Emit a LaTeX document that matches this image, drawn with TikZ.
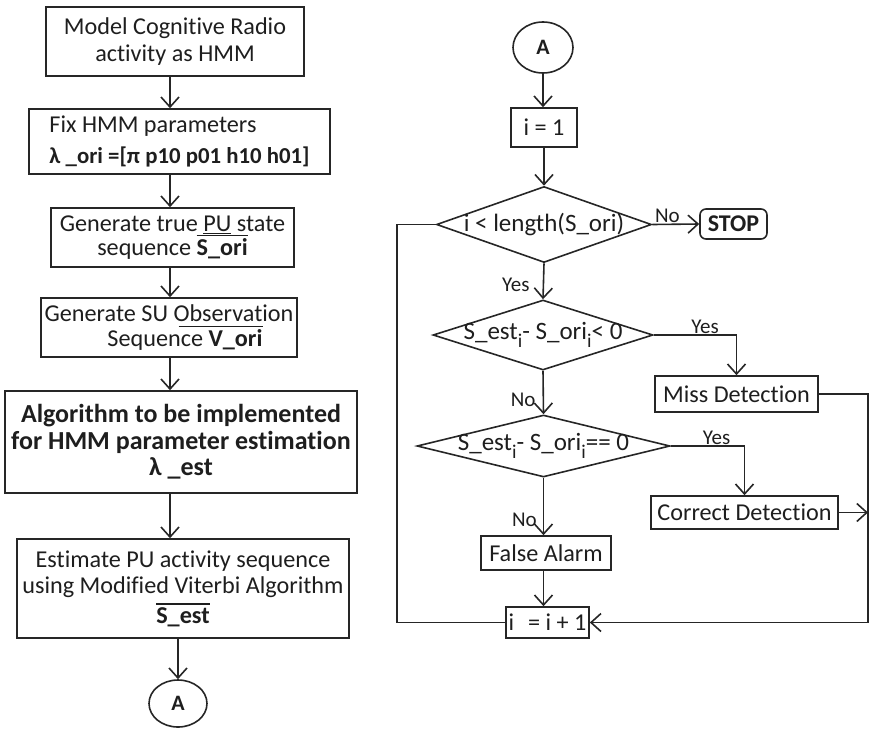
\documentclass[tikz,border=0pt]{standalone}
\usepackage{fontspec}
\setmainfont[Ligatures=NoCommon]{Carlito}
\usetikzlibrary{shapes.geometric,arrows.meta}
% bar over a piece of text; the optional argument extends the bar to the left
\newcommand\ovbar[2][0pt]{\leavevmode\hskip-#1\vbox{\hrule height 1.4pt\kern2.5pt\hbox{\hskip#1#2}}}
% lowered index letter
\newcommand\idx[1]{\raisebox{-8pt}{\fontsize{19.5}{19.5}\selectfont #1}}
\definecolor{ln}{HTML}{262626}
\definecolor{tx}{HTML}{1E1E1E}
\begin{document}
\begin{tikzpicture}[x=1pt,y=-1pt,
  box/.style={draw=ln, line width=1.6pt, rectangle, inner sep=0pt, align=center,
              font=\fontsize{24.2}{27}\selectfont, text=tx},
  dec/.style={draw=ln, line width=1.6pt, diamond, inner sep=0pt,
              font=\fontsize{25}{27}\selectfont, text=tx},
  con/.style={draw=ln, line width=1.6pt, ellipse, inner sep=0pt,
              font=\fontsize{22}{22}\selectfont\bfseries, text=tx},
  arr/.style={draw=ln, line width=1.6pt, -{Straight Barb[length=10pt,width=18pt]}},
  lnk/.style={draw=ln, line width=1.6pt},
  lab/.style={font=\fontsize{21}{21}\selectfont, text=tx, inner sep=1pt}]
\useasboundingbox (0,0) rectangle (869,731);

% ---------------- left column ----------------
\node[box, minimum width=258pt, minimum height=69pt] (b1) at (175,41.5)
  {Model Cognitive Radio\\activity as HMM};
\node[box, minimum width=301pt, minimum height=65pt, align=left,
      font=\fontsize{24.2}{31}\selectfont] (b2) at (179.5,141.5)
  {Fix HMM parameters\\{\fontsize{22.8}{31}\selectfont\bfseries λ \_ori =[π p10 p01 h10 h01]}};
\node[box, minimum width=243pt, minimum height=59pt,
      font=\fontsize{24.2}{24}\selectfont] (b3) at (172.5,237.5)
  {Generate true \underline{PU} state\\sequence \ovbar{\textbf{S\_ori}}};
\node[box, minimum width=256pt, minimum height=59pt,
      font=\fontsize{24.2}{25}\selectfont] (b4) at (169,327.5)
  {Generate SU Observation\\\hspace*{32pt}Sequence \ovbar[30pt]{\textbf{V\_ori}}};
\node[box, minimum width=352pt, minimum height=102pt,
      font=\fontsize{26}{26.5}\selectfont\bfseries] (b5) at (181,442)
  {Algorithm to be implemented\\for HMM parameter estimation\\λ \_est};
\node[box, minimum width=332pt, minimum height=99pt,
      font=\fontsize{24.2}{26}\selectfont] (b6) at (183,588.5)
  {Estimate PU activity sequence\\using Modified Viterbi Algorithm\\[4pt]\ovbar{\textbf{S\_est}}};
\node[con, minimum width=58pt, minimum height=47pt] (a1) at (178,703.5) {A};

\coordinate (axL) at (170,0);
\draw[arr] (b1.south -| axL) -- (b2.north -| axL);
\draw[arr] (b2.south -| axL) -- (b3.north -| axL);
\draw[arr] (b3.south -| axL) -- (b4.north -| axL);
\draw[arr] (b4.south -| axL) -- (b5.north -| axL);
\draw[arr] (b5.south -| axL) -- (b6.north -| axL);
\draw[arr] (b6.south -| a1) -- (a1.north);

% ---------------- right column ----------------
\node[con, minimum width=60pt, minimum height=51pt] (a2) at (543,47.5) {A};
\node[box, minimum width=66pt, minimum height=39pt] (i1) at (544,127.5) {i = 1};
\node[dec, minimum width=215pt, minimum height=76pt] (d1) at (544,224.5)
  {\makebox[0pt]{i < length(S\_ori)}};
\node[box, minimum width=67pt, minimum height=30pt, rounded corners=6pt,
      font=\fontsize{24}{24}\selectfont\bfseries] (stop) at (733.5,224) {STOP};
\node[dec, minimum width=220pt, minimum height=70pt] (d2) at (543,335)
  {\makebox[0pt]{S\_est\idx{i}- S\_ori\idx{i}< 0}};
\node[box, minimum width=163pt, minimum height=36pt] (miss) at (736.5,394) {Miss Detection};
\node[dec, minimum width=253pt, minimum height=62pt] (d3) at (543.5,446)
  {\makebox[0pt]{S\_est\idx{i}- S\_ori\idx{i}== 0}};
\node[box, minimum width=187pt, minimum height=33pt] (corr) at (744.5,512.5) {Correct Detection};
\node[box, minimum width=130pt, minimum height=34pt] (fa) at (546,553) {False Alarm};
\node[box, minimum width=83pt, minimum height=31pt] (inc) at (547.5,622.5) {i\hspace{0.35em} = i + 1};

\coordinate (loopL) at (397,0);
\coordinate (edgeR) at (868,0);

\draw[arr] (a2.south) -- (a2.south |- i1.north);
\draw[arr] (i1.south) -- (i1.south |- d1.north);
\draw[arr] (d1.east) -- node[lab, pos=0.32, anchor=south] (noA) {No} (stop.west);
\draw[arr] (d1.south) -- node[lab, pos=0.6, anchor=east, xshift=-12pt] (yesA) {Yes} (d2.north);
\draw[lnk] (inc.west) -| (loopL |- d1.west) -- (d1.west);
\draw[arr] (d2.east) -| node[lab, pos=0.31, anchor=south] (yesB) {Yes} (miss.north);
\draw[arr] (d2.south) -- node[lab, pos=0.67, anchor=east, xshift=-6pt] (noB) {No} (d3.north);
\draw[arr] (d3.east) -| node[lab, pos=0.31, anchor=south] (yesC) {Yes} (corr.north);
\draw[arr] (d3.south) -- node[lab, pos=0.73, anchor=east, xshift=-5pt] (noC) {No} (d3.south |- fa.north);
\draw[arr] (d3.south |- fa.south) -- (d3.south |- inc.north);
\draw[arr] (miss.east) -| (edgeR |- inc.east) -- (inc.east);
\draw[arr] (corr.east) -- (corr.east -| edgeR);
\end{tikzpicture}
\end{document}
